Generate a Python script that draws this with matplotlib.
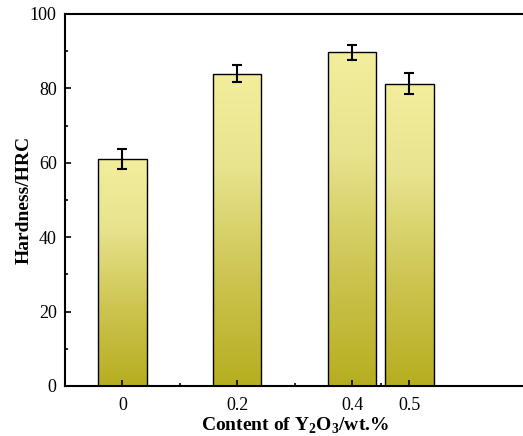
import matplotlib
matplotlib.use("Agg")
import matplotlib.pyplot as plt
import numpy as np
from matplotlib.colors import LinearSegmentedColormap

# Data
content = [0, 0.2, 0.4, 0.5]
hardness = [61.0, 84.0, 89.7, 81.3]
hardness_err = [2.7, 2.4, 2.0, 2.9]
tick_labels = ["0", "0.2", "0.4", "0.5"]

plt.rcParams["font.family"] = ["Liberation Serif", "DejaVu Serif"]
plt.rcParams["mathtext.fontset"] = "custom"
plt.rcParams["mathtext.rm"] = "Liberation Serif"
plt.rcParams["mathtext.bf"] = "Liberation Serif:bold"

fig = plt.figure(figsize=(5.23, 4.36), dpi=100)
ax = fig.add_axes([0.1243, 0.1147, 0.878, 0.8532])

bar_w = 0.084
bars = ax.bar(content, hardness, width=bar_w, facecolor="none",
              edgecolor="black", linewidth=1.0, zorder=3)

# vertical gradient fill: olive at the bottom, pale yellow at the top
cmap = LinearSegmentedColormap.from_list(
    "olive_yellow",
    [(0.0, "#b6ae1f"), (0.35, "#cdc552"), (0.7, "#e8e38e"), (1.0, "#f2ee9c")])
grad = np.linspace(0, 1, 256).reshape(-1, 1)
for b in bars:
    x0, w, h = b.get_x(), b.get_width(), b.get_height()
    im = ax.imshow(grad, cmap=cmap, origin="lower", aspect="auto",
                   interpolation="bilinear",
                   extent=[x0, x0 + w, 0, h], zorder=2)
    im.set_clip_path(b)

ax.errorbar(content, hardness, yerr=hardness_err, fmt="none", ecolor="black",
            elinewidth=1.5, capsize=3.5, capthick=1.5, zorder=4)

ax.set_xlim(-0.1, 0.7)
ax.set_ylim(0, 100)
ax.set_xticks(content)
ax.set_xticklabels(tick_labels)
ax.set_xticks([0.1, 0.3, 0.45], minor=True)
ax.set_yticks([0, 20, 40, 60, 80, 100])
ax.set_yticks([10, 30, 50, 70, 90], minor=True)

ax.tick_params(axis="both", which="major", direction="in", length=4.5,
               width=1.2, labelsize=13, pad=6)
ax.tick_params(axis="x", which="major", pad=8)
ax.tick_params(axis="both", which="minor", direction="in", length=2.5, width=1.2)
ax.tick_params(axis="x", which="both", top=False)
ax.tick_params(axis="y", which="both", right=False)

for side in ["left", "bottom", "top"]:
    ax.spines[side].set_linewidth(1.5)
ax.spines["right"].set_visible(False)
ax.set_axisbelow(False)

ax.set_ylabel("Hardness/HRC", fontsize=14, fontweight="bold", labelpad=-2)
ax.set_xlabel(r"Content of Y$_\mathbf{2}$O$_\mathbf{3}$/wt.%", fontsize=14,
              fontweight="bold", labelpad=1)

fig.savefig("out.png", dpi=100)
